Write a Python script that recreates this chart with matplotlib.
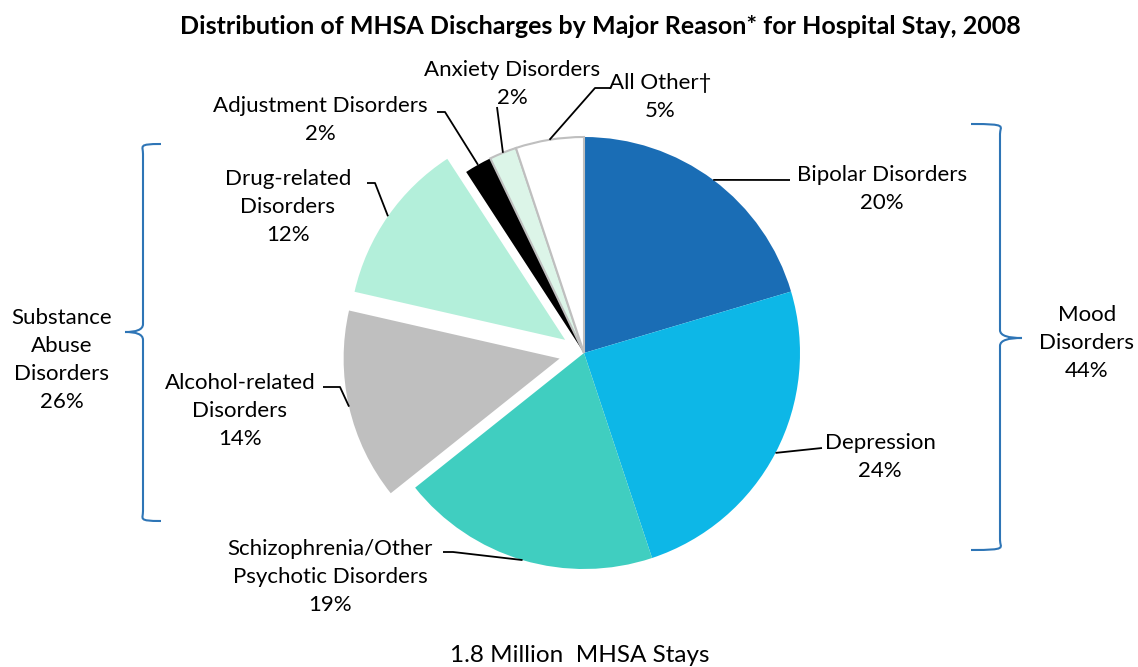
import numpy as np
import matplotlib.pyplot as plt
from matplotlib.path import Path
from matplotlib.patches import PathPatch

# -------------------- data --------------------
labels = ['Bipolar Disorders', 'Depression', 'Schizophrenia/Other\nPsychotic Disorders',
          'Alcohol-related\nDisorders', 'Drug-related\nDisorders',
          'Adjustment Disorders', 'Anxiety Disorders', 'All Other\u2020']
shares = [20, 24, 19, 14, 12, 2, 2, 5]
colors = ['#1a6db5', '#0db7e7', '#40cec0', '#bfbfbf', '#b3efda',
          '#000000', '#dcf5e8', '#ffffff']
explode_px = [0, 0, 0, 25, 23, 0, 0, 0]

group_labels = ['Substance\nAbuse\nDisorders\n26%', 'Mood\nDisorders\n44%']

# -------------------- layout (pixel coords, y down) --------------------
W, H = 1138, 667
cx, cy, R = 584, 353, 216
font = 'Lato'
fs = 16
lsp = 1.5

# label centre, elbow point, end point of leader line
label_pos = [(882, 189), (880, 457), (330, 577), (240, 411),
             (288, 207), (320, 120), (512, 84), (660, 97)]
leader_mid = [None, None, (453, 552), (340, 387), (375, 183), (445, 112), None, (595, 88)]
leader_end = [(790, 180), (822, 448), (443, 552), (323, 387), (367, 183), (437, 112), (497, 107), (610, 88)]

fig = plt.figure(figsize=(W / 100, H / 100), dpi=100)
ax = fig.add_axes([0, 0, 1, 1])

wedges, _ = ax.pie(shares, colors=colors, explode=explode_px, startangle=90,
                   counterclock=False, center=(cx, H - cy), radius=R,
                   wedgeprops=dict(linewidth=0))
for i in (6, 7):
    wedges[i].set_edgecolor('#bfbfbf')
    wedges[i].set_linewidth(1.5)

ax.set_xlim(0, W)
ax.set_ylim(0, H)
ax.set_aspect('equal')
ax.axis('off')

def fy(y):
    return H - y

# leader lines and labels
for i, w in enumerate(wedges):
    tm = np.radians(0.5 * (w.theta1 + w.theta2))
    wx, wy = w.center
    xs, ys = [wx + R * np.cos(tm)], [wy + R * np.sin(tm)]
    if leader_mid[i] is not None:
        xs.append(leader_mid[i][0]); ys.append(fy(leader_mid[i][1]))
    xs.append(leader_end[i][0]); ys.append(fy(leader_end[i][1]))
    ax.plot(xs, ys, color='black', lw=1.3, solid_capstyle='butt')
    lx, ly = label_pos[i]
    ax.text(lx, fy(ly), f'{labels[i]}\n{shares[i]}%', ha='center', va='center',
            fontsize=fs, family=font, linespacing=lsp)

# curly braces
def brace(x0, y_top, y_bot, y_nose, tip, width):
    verts = [(tip, y_top), (x0 - 0.3 * (tip - x0), y_top), (x0, y_top + 2), (x0, y_top + 10),
             (x0, y_nose - 8),
             (x0, y_nose - 2), (x0 + 0.4 * width, y_nose), (x0 + width, y_nose),
             (x0 + 0.4 * width, y_nose), (x0, y_nose + 2), (x0, y_nose + 8),
             (x0, y_bot - 10),
             (x0, y_bot - 2), (x0 - 0.3 * (tip - x0), y_bot), (tip, y_bot)]
    codes = [Path.MOVETO, Path.CURVE4, Path.CURVE4, Path.CURVE4,
             Path.LINETO,
             Path.CURVE4, Path.CURVE4, Path.CURVE4,
             Path.CURVE4, Path.CURVE4, Path.CURVE4,
             Path.LINETO,
             Path.CURVE4, Path.CURVE4, Path.CURVE4]
    verts = [(x, fy(y)) for x, y in verts]
    ax.add_patch(PathPatch(Path(verts, codes), fill=False, edgecolor='#2e75b6', lw=1.5))

brace(143, 144, 521, 332, 161, -18)
brace(1000, 124, 550, 338, 971, 22)

ax.text(62, fy(360), group_labels[0], ha='center', va='center',
        fontsize=fs, family=font, linespacing=lsp)
ax.text(1087, fy(343), group_labels[1], ha='center', va='center',
        fontsize=fs, family=font, linespacing=lsp)

ax.text(600, fy(26), 'Distribution of MHSA Discharges by Major Reason* for Hospital Stay, 2008',
        ha='center', va='center', fontsize=18, family=font, fontweight='bold')
ax.text(580, fy(655), '1.8 Million  MHSA Stays', ha='center', va='center',
        fontsize=17.5, family=font)

fig.savefig('out.png', dpi=100)
